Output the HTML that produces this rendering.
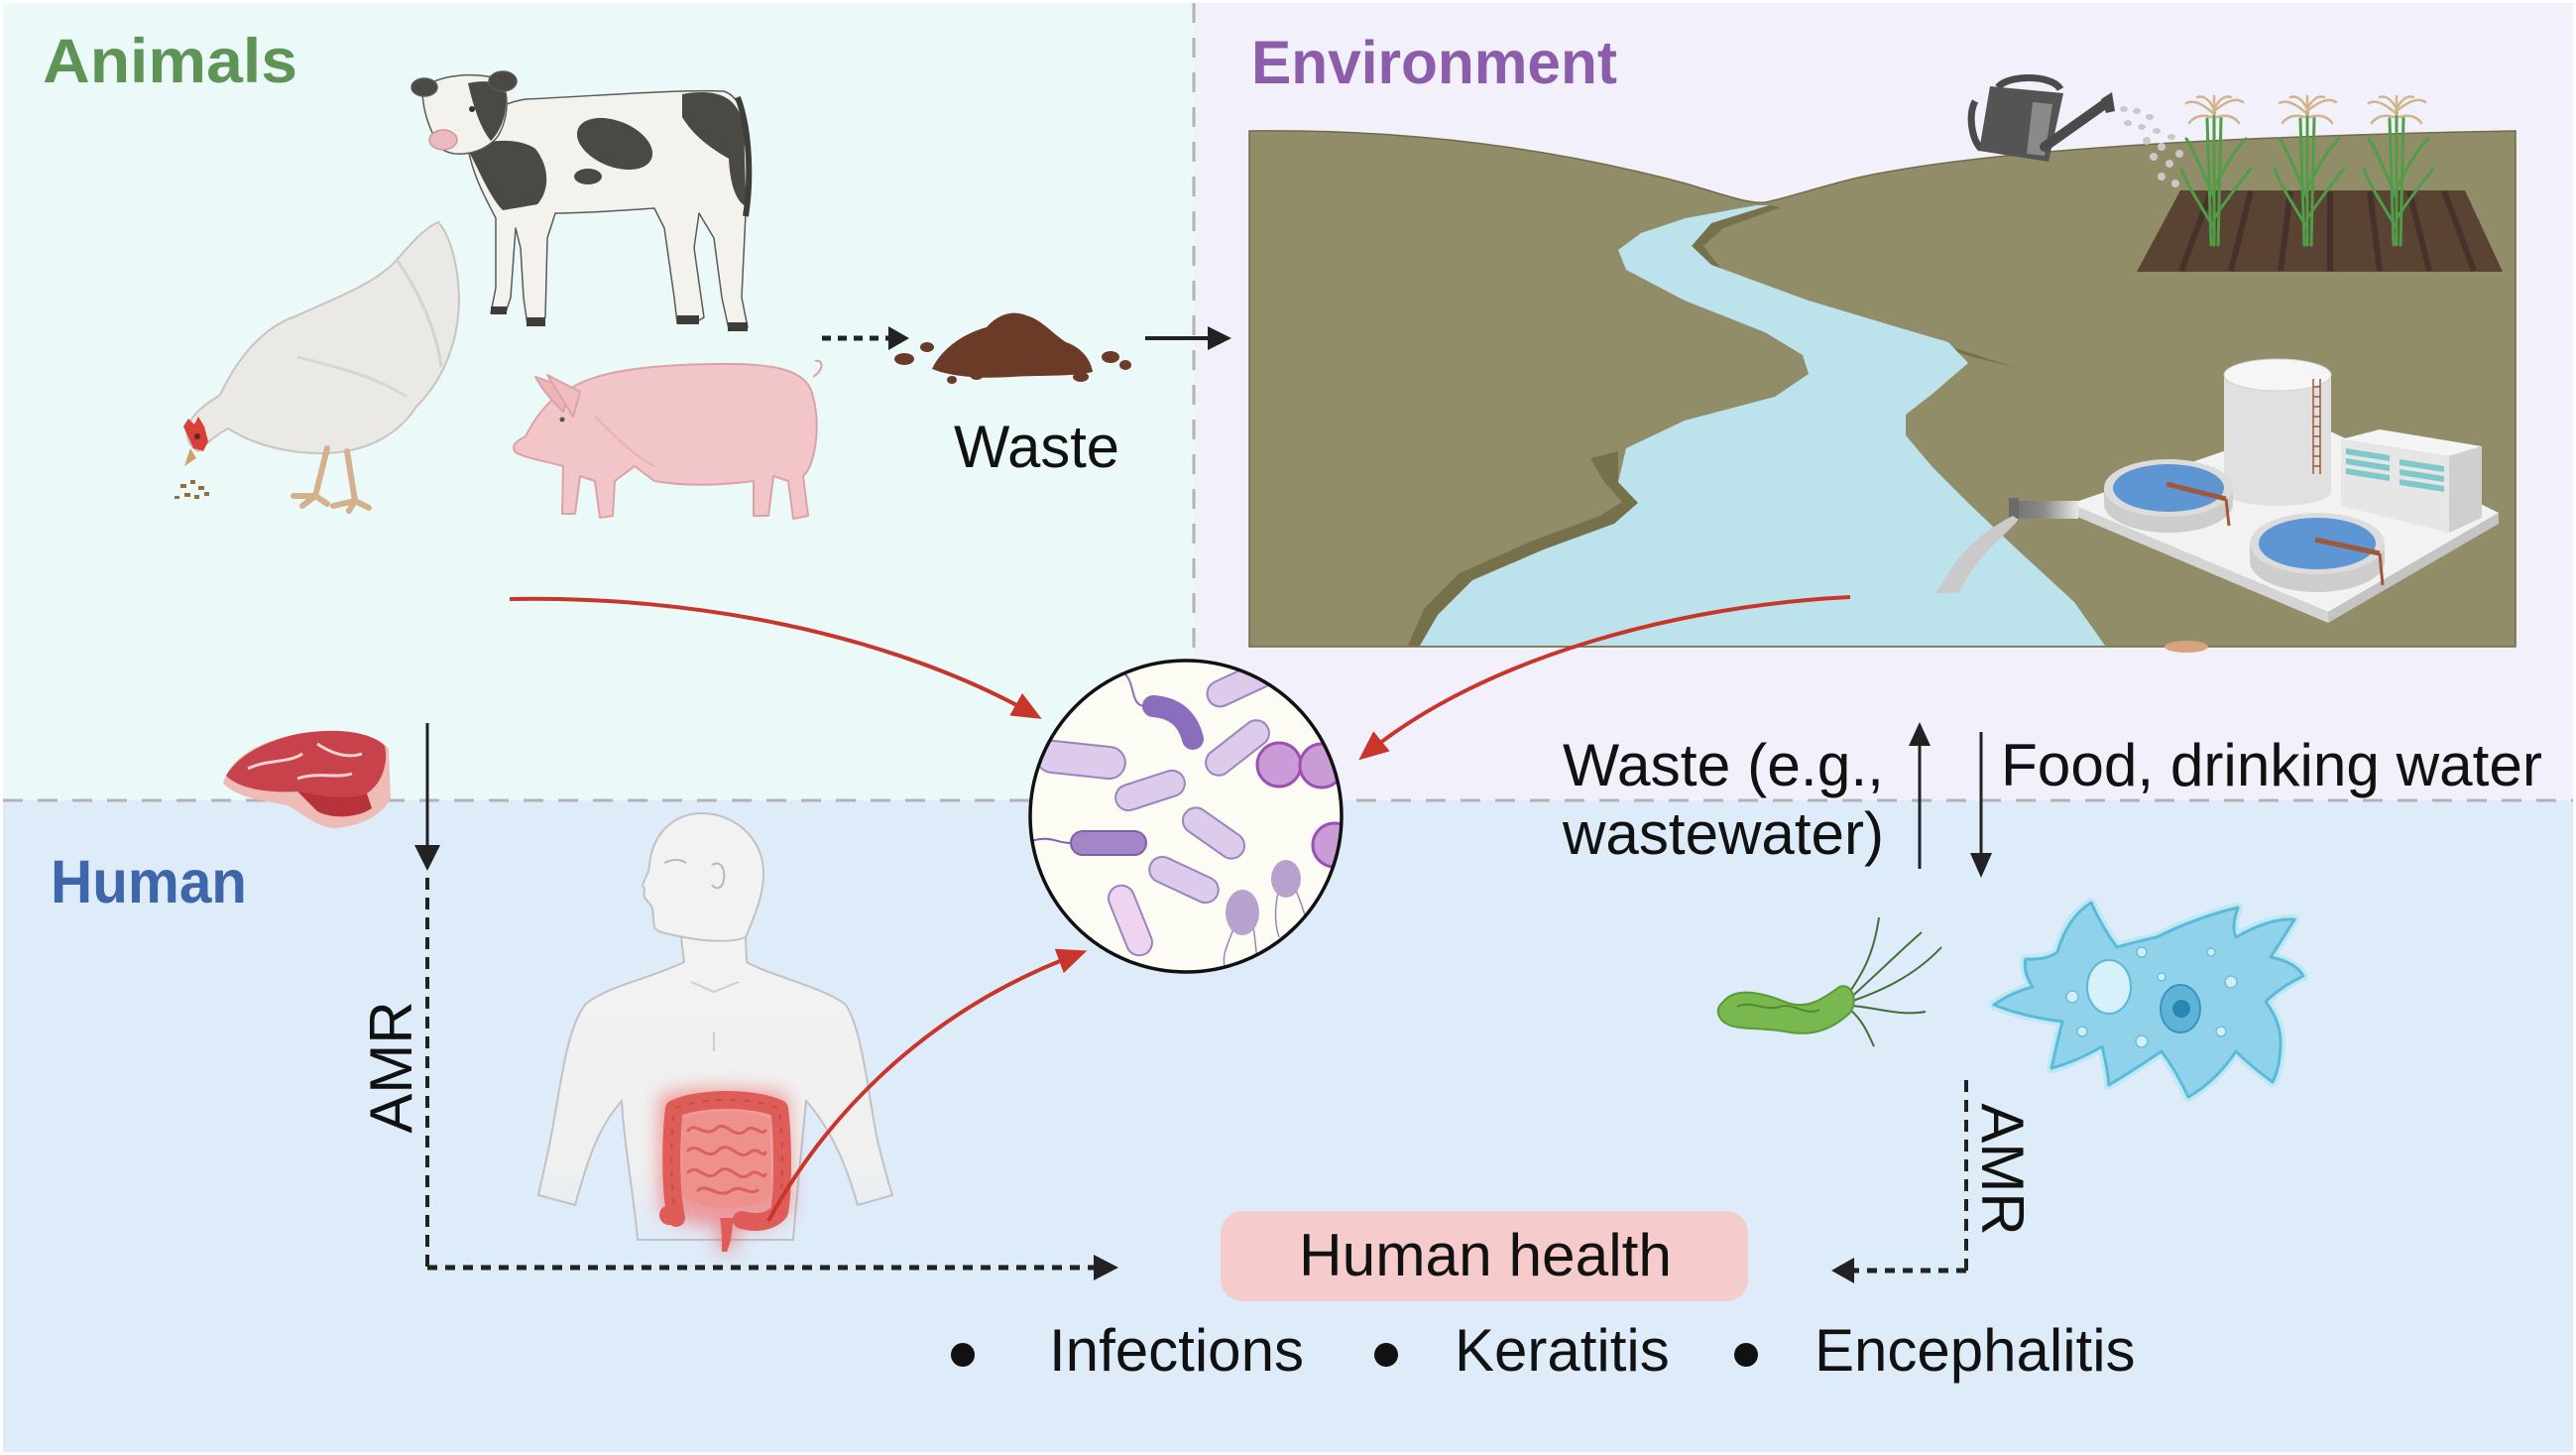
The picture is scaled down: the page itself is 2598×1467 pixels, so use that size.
<!DOCTYPE html>
<html>
<head>
<meta charset="utf-8">
<style>
html,body{margin:0;padding:0;background:#fff;}
body{width:2598px;height:1467px;overflow:hidden;}
svg{display:block;}
text{font-family:"Liberation Sans",Arial,sans-serif;}
</style>
</head>
<body>
<svg width="2598" height="1467" viewBox="0 0 2598 1467" xmlns="http://www.w3.org/2000/svg">
<defs>
  <clipPath id="circ"><circle cx="1196" cy="823" r="156"/></clipPath>
  <linearGradient id="bodyfade" x1="0" y1="0" x2="0" y2="1">
    <stop offset="0" stop-color="#f2f2f2"/>
    <stop offset="0.75" stop-color="#f0f0f0"/>
    <stop offset="1" stop-color="#f0f0f0" stop-opacity="0"/>
  </linearGradient>
  <linearGradient id="pipeg" x1="0" y1="0" x2="1" y2="0">
    <stop offset="0" stop-color="#6f6f6f"/>
    <stop offset="0.5" stop-color="#8a8a8a"/>
    <stop offset="1" stop-color="#e8e8e8"/>
  </linearGradient>
  <filter id="glow" x="-30%" y="-30%" width="160%" height="160%">
    <feGaussianBlur stdDeviation="9"/>
  </filter>
  <marker id="rh" markerUnits="userSpaceOnUse" markerWidth="30" markerHeight="26" refX="20" refY="13" orient="auto">
    <path d="M0,0 L30,13 L0,26 z" fill="#c8352b"/>
  </marker>
</defs>

<!-- Backgrounds -->
<rect x="0" y="0" width="2598" height="1467" fill="#ffffff"/>
<rect x="3" y="3" width="1201" height="804" fill="#ebf9f9"/>
<rect x="1204" y="3" width="1391" height="804" fill="#f1f0fb"/>
<rect x="3" y="807" width="2592" height="657" fill="#deebf8"/>
<line x1="1204" y1="3" x2="1204" y2="807" stroke="#b3b3b3" stroke-width="3" stroke-dasharray="20 15"/>
<line x1="3" y1="807" x2="2595" y2="807" stroke="#b3b3b3" stroke-width="3" stroke-dasharray="20 15"/>

<!-- Titles -->
<text x="43" y="83" font-size="63" font-weight="bold" fill="#5e9456" textLength="257" lengthAdjust="spacingAndGlyphs">Animals</text>
<text x="1262" y="84" font-size="61" font-weight="bold" fill="#8b5dab" textLength="369" lengthAdjust="spacingAndGlyphs">Environment</text>
<text x="51" y="910" font-size="61" font-weight="bold" fill="#3e66ab" textLength="198" lengthAdjust="spacingAndGlyphs">Human</text>

<!-- Cow -->
<g stroke="#5a5a5a" stroke-width="1.5" stroke-linejoin="round">
  <path d="M472,150 C480,120 500,105 530,100 C600,97 680,90 730,92 C748,98 752,120 750,150 L752,215 L748,300 L754,330 L735,332 L728,300 L720,240 L705,215 L700,250 L710,320 L700,326 L683,326 L680,300 L670,230 L660,210 C630,212 590,215 560,215 L552,240 L550,320 L532,328 L528,300 L525,250 L520,230 L515,300 L510,315 L495,316 L500,290 L500,220 C490,200 478,180 472,150 Z" fill="#f4f2ed"/>
  <path d="M470,148 C482,168 492,196 507,212 L542,206 C556,190 553,166 540,150 C524,139 498,140 470,148 Z" fill="#4a4944" stroke="none"/>
  <path d="M688,95 C720,89 746,95 750,130 L752,208 C741,202 736,182 735,160 C718,150 700,138 688,118 Z" fill="#4a4944" stroke="none"/>
  <ellipse cx="620" cy="145" rx="40" ry="23" transform="rotate(22 620 145)" fill="#4a4944" stroke="none"/>
  <ellipse cx="593" cy="178" rx="14" ry="8" fill="#4a4944" stroke="none"/>
  <path d="M744,98 C756,130 758,180 752,218" fill="none" stroke="#3e3d39" stroke-width="6"/>
  <path d="M426,90 C440,75 480,72 505,80 C515,95 512,125 500,140 C485,155 460,160 445,150 C432,130 426,110 426,90 Z" fill="#f4f2ed"/>
  <path d="M472,84 C490,80 505,82 510,95 C512,115 505,132 495,142 C485,130 478,110 472,84 Z" fill="#4a4944" stroke="none"/>
  <ellipse cx="428" cy="88" rx="13" ry="9" fill="#4a4944"/>
  <ellipse cx="507" cy="82" rx="14" ry="10" fill="#4a4944"/>
  <ellipse cx="447" cy="141" rx="14" ry="10" fill="#ebb9bf" stroke="#c99"/>
  <circle cx="476" cy="110" r="3" fill="#333" stroke="none"/>
  <rect x="495" y="309" width="16" height="8" fill="#3e3d39" stroke="none"/>
  <rect x="531" y="320" width="19" height="9" fill="#3e3d39" stroke="none"/>
  <rect x="683" y="318" width="22" height="9" fill="#3e3d39" stroke="none"/>
  <rect x="734" y="325" width="20" height="9" fill="#3e3d39" stroke="none"/>
</g>

<!-- Chicken -->
<g stroke-linejoin="round">
  <path d="M442,224 C452,235 462,262 463,300 C463,340 450,380 420,410 C400,440 370,455 330,457 C290,458 255,448 230,432 C215,440 205,450 200,455 C190,450 186,438 190,428 C196,414 212,405 222,398 C240,360 265,330 300,318 C340,300 380,285 400,262 C415,245 428,230 442,224 Z" fill="#ebe9e6" stroke="#c8c4bf" stroke-width="2"/>
  <path d="M400,262 C420,290 440,330 445,370" fill="none" stroke="#d6d2cd" stroke-width="3"/>
  <path d="M300,360 C340,370 380,380 410,400" fill="none" stroke="#d9d5d0" stroke-width="3"/>
  <path d="M185,430 L190,422 L196,428 L200,420 L206,430 L210,445 L205,455 L195,452 Z" fill="#d9403a"/>
  <path d="M192,452 L186,470 L198,462 Z" fill="#c9a36a"/>
  <circle cx="199" cy="440" r="3" fill="#5a2a20"/>
  <g stroke="#d4b08e" stroke-width="6" stroke-linecap="round" fill="none">
    <path d="M330,452 L318,500"/>
    <path d="M350,455 L358,505"/>
    <path d="M318,500 L296,500 M318,500 L305,510 M318,500 L330,508"/>
    <path d="M358,505 L336,510 M358,505 L352,515 M358,505 L372,512"/>
  </g>
  <g fill="#9b6b3e">
    <rect x="182" y="488" width="6" height="4"/><rect x="192" y="484" width="5" height="4"/>
    <rect x="200" y="490" width="6" height="4"/><rect x="186" y="497" width="6" height="4"/>
    <rect x="196" y="499" width="5" height="4"/><rect x="176" y="500" width="5" height="3"/>
    <rect x="206" y="496" width="5" height="4"/>
  </g>
</g>

<!-- Pig -->
<g stroke="#dba3a7" stroke-width="2" stroke-linejoin="round">
  <path d="M530,440 C540,420 555,400 575,392 C600,375 650,368 720,367 C780,366 815,372 820,400 C828,430 822,470 810,480 L815,520 L800,523 L795,485 L780,480 L775,520 L760,520 L760,485 C720,490 690,490 660,485 L640,470 L620,485 L618,520 L605,522 L600,485 L585,480 L580,518 L567,518 L568,470 C550,465 530,462 520,456 C515,450 520,445 530,440 Z" fill="#f2c6c8"/>
  <path d="M540,380 L575,392 L568,415 C558,405 548,395 540,380 Z" fill="#eeb5b9"/>
  <path d="M552,378 L585,395 L578,420 Z" fill="#f0bdc1"/>
  <path d="M820,380 C832,372 830,362 822,364" fill="none"/>
  <circle cx="567" cy="423" r="2.5" fill="#555" stroke="none"/>
  <path d="M600,420 C620,440 640,460 660,470" fill="none" stroke="#e6b0b4"/>
</g>

<!-- Waste pile -->
<g fill="#6b3b28">
  <path d="M940,372 C950,350 975,335 995,330 C1005,318 1020,312 1035,318 C1050,322 1060,335 1075,345 C1090,350 1100,362 1102,375 C1080,380 1050,378 1020,380 C990,382 960,380 940,372 Z"/>
  <ellipse cx="912" cy="362" rx="10" ry="6"/>
  <ellipse cx="935" cy="350" rx="7" ry="5"/>
  <ellipse cx="1120" cy="360" rx="9" ry="6"/>
  <ellipse cx="1135" cy="368" rx="6" ry="5"/>
  <ellipse cx="985" cy="378" rx="7" ry="5"/>
  <ellipse cx="1090" cy="380" rx="8" ry="5"/>
  <ellipse cx="960" cy="383" rx="5" ry="4"/>
</g>
<text x="962" y="471" font-size="60" fill="#111" textLength="167" lengthAdjust="spacingAndGlyphs">Waste</text>

<line x1="829" y1="341" x2="898" y2="341" stroke="#222" stroke-width="5" stroke-dasharray="9 7"/>
<polygon points="896,329 896,353 917,341" fill="#222"/>
<line x1="1155" y1="341" x2="1222" y2="341" stroke="#222" stroke-width="4"/>
<polygon points="1218,329 1218,353 1242,341" fill="#222"/>

<!-- ENVIRONMENT -->
<path d="M1260,652 L1260,132 C1400,130 1550,145 1700,185 C1740,197 1765,206 1780,204 C1800,200 1830,190 1870,180 C1980,155 2200,138 2537,132 L2537,652 Z" fill="#918d68" stroke="#6f6b48" stroke-width="1.5"/>
<!-- river bank shading (thin strips) -->
<polygon points="1784,207 1726,225 1706,248 1726,267 1824,303 1931,335 1975,352 2034,371 1990,360 1940,345 1836,310 1738,274 1718,248 1738,230 1796,209" fill="#76714b"/>
<polygon points="1632,455 1632,486 1652,507 1628,528 1557,554 1485,585 1450,620 1432,651 1420,651 1436,614 1472,578 1546,545 1614,520 1636,506 1618,486 1604,462" fill="#76714b"/>
<!-- river -->
<path d="M1771,207 L1700,220 L1655,235 L1632,252 L1640,272 L1699,303 L1780,335 L1818,358 L1824,377 L1790,400 L1699,424 L1640,452 L1632,486 L1652,507 L1628,528 L1557,554 L1485,585 L1450,620 L1432,651 L2123,651 L2092,607 L2029,549 L1985,507 L1949,471 L1922,439 L1922,418 L1949,397 L1985,366 L1965,345 L1931,335 L1824,303 L1726,267 L1706,248 L1726,225 L1784,207 Z" fill="#bce2ec"/>
<ellipse cx="2205" cy="652" rx="22" ry="6" fill="#d6a47c"/>

<!-- watering can -->
<g>
  <path d="M1992,102 C1985,115 1988,140 1998,150" fill="none" stroke="#4a4a4a" stroke-width="7"/>
  <path d="M2015,88 C2025,75 2070,75 2078,90" fill="none" stroke="#4a4a4a" stroke-width="7"/>
  <polygon points="2007,87 2081,94 2066,163 1996,152" fill="#545454"/>
  <polygon points="2050,103 2070,105 2062,157 2044,155" fill="#8a8a8a"/>
  <line x1="2062" y1="148" x2="2124" y2="104" stroke="#4a4a4a" stroke-width="10" stroke-linecap="round"/>
  <polygon points="2119,100 2130,93 2133,112 2124,114" fill="#4a4a4a"/>
</g>
<g fill="#c9c9c9">
  <ellipse cx="2142" cy="110" rx="4" ry="3"/><ellipse cx="2155" cy="112" rx="4" ry="3"/>
  <ellipse cx="2168" cy="118" rx="4" ry="3"/><ellipse cx="2146" cy="124" rx="4" ry="3"/>
  <ellipse cx="2160" cy="128" rx="4" ry="3"/><ellipse cx="2175" cy="132" rx="4" ry="3"/>
  <ellipse cx="2165" cy="142" rx="4" ry="4"/><ellipse cx="2180" cy="148" rx="4" ry="4"/>
  <ellipse cx="2190" cy="138" rx="4" ry="3"/><ellipse cx="2172" cy="158" rx="4" ry="4"/>
  <ellipse cx="2188" cy="165" rx="4" ry="4"/><ellipse cx="2198" cy="155" rx="4" ry="4"/>
  <ellipse cx="2180" cy="178" rx="4" ry="4"/><ellipse cx="2194" cy="185" rx="4" ry="4"/>
  <ellipse cx="2202" cy="200" rx="4" ry="4"/><ellipse cx="2205" cy="215" rx="4" ry="4"/>
</g>
<polygon points="2199,192 2486,192 2524,274 2155,274" fill="#5b4334"/>
<g stroke="#46322a" stroke-width="6">
  <line x1="2230" y1="193" x2="2200" y2="273"/>
  <line x1="2270" y1="193" x2="2250" y2="273"/>
  <line x1="2310" y1="193" x2="2300" y2="273"/>
  <line x1="2350" y1="193" x2="2350" y2="273"/>
  <line x1="2390" y1="193" x2="2400" y2="273"/>
  <line x1="2430" y1="193" x2="2450" y2="273"/>
  <line x1="2465" y1="193" x2="2495" y2="273"/>
</g>
<g id="plant1" stroke-linecap="round" fill="none">
  <g stroke="#4f9e47" stroke-width="3">
    <path d="M2233,247 L2233,110"/><path d="M2230,247 L2226,120"/><path d="M2237,247 L2240,118"/>
    <path d="M2233,230 C2215,200 2205,185 2200,170"/>
    <path d="M2233,220 C2250,195 2262,180 2270,170"/>
    <path d="M2233,200 C2220,170 2212,150 2205,140"/>
    <path d="M2233,190 C2248,160 2255,150 2265,140"/>
  </g>
  <g stroke="#d2b48c" stroke-width="2.5">
    <path d="M2233,115 C2222,105 2212,100 2205,104"/>
    <path d="M2233,112 C2245,102 2255,98 2262,103"/>
    <path d="M2233,110 C2228,100 2222,96 2216,98"/>
    <path d="M2233,110 C2238,100 2244,96 2250,98"/>
    <path d="M2233,112 L2233,97"/>
    <path d="M2230,118 C2220,115 2212,118 2208,124"/>
    <path d="M2236,118 C2246,115 2254,118 2258,124"/>
  </g>
</g>
<use href="#plant1" transform="translate(94,0)"/>
<use href="#plant1" transform="translate(184,0)"/>

<!-- treatment plant -->
<g>
  <polygon points="2088,508 2330,425 2520,517 2348,617" fill="#f2f2f2"/>
  <polygon points="2088,508 2348,617 2348,628 2088,518" fill="#d4d4d4"/>
  <polygon points="2348,617 2520,517 2520,528 2348,628" fill="#c4c4c4"/>
  <rect x="2243" y="378" width="108" height="118" fill="#e0e0e0"/>
  <ellipse cx="2297" cy="496" rx="54" ry="14" fill="#e0e0e0"/>
  <ellipse cx="2297" cy="378" rx="54" ry="16" fill="#f6f6f6" stroke="#d0d0d0"/>
  <g stroke="#a0583b" stroke-width="1.5">
    <line x1="2333" y1="382" x2="2333" y2="478"/><line x1="2340" y1="382" x2="2340" y2="478"/>
    <line x1="2333" y1="390" x2="2340" y2="390"/><line x1="2333" y1="400" x2="2340" y2="400"/>
    <line x1="2333" y1="410" x2="2340" y2="410"/><line x1="2333" y1="420" x2="2340" y2="420"/>
    <line x1="2333" y1="430" x2="2340" y2="430"/><line x1="2333" y1="440" x2="2340" y2="440"/>
    <line x1="2333" y1="450" x2="2340" y2="450"/><line x1="2333" y1="460" x2="2340" y2="460"/>
    <line x1="2333" y1="470" x2="2340" y2="470"/>
  </g>
  <polygon points="2361,443 2400,433 2503,450 2470,460" fill="#f4f4f4"/>
  <polygon points="2361,443 2470,460 2470,537 2361,510" fill="#e6e6e6"/>
  <polygon points="2470,460 2503,450 2503,522 2470,537" fill="#cfcfcf"/>
  <g fill="#7fc8cb">
    <polygon points="2366,452 2410,459 2410,465 2366,458"/>
    <polygon points="2366,462 2410,469 2410,475 2366,468"/>
    <polygon points="2366,472 2410,479 2410,485 2366,478"/>
    <polygon points="2420,463 2465,470 2465,476 2420,469"/>
    <polygon points="2420,473 2465,480 2465,486 2420,479"/>
    <polygon points="2420,483 2465,490 2465,496 2420,489"/>
  </g>
  <path d="M2122,492 L2122,508 A65,29 0 0 0 2252,508 L2252,492 Z" fill="#cdcdcd"/>
  <ellipse cx="2187" cy="492" rx="65" ry="29" fill="#dcdcdc"/>
  <ellipse cx="2187" cy="492" rx="56" ry="24" fill="#5e96d3"/>
  <line x1="2185" y1="488" x2="2245" y2="503" stroke="#a0583b" stroke-width="5"/>
  <line x1="2245" y1="503" x2="2248" y2="530" stroke="#a0583b" stroke-width="3"/>
  <path d="M2269,548 L2269,566 A68,31 0 0 0 2405,566 L2405,548 Z" fill="#cdcdcd"/>
  <ellipse cx="2337" cy="548" rx="68" ry="31" fill="#dcdcdc"/>
  <ellipse cx="2337" cy="548" rx="59" ry="26" fill="#5e96d3"/>
  <line x1="2335" y1="544" x2="2400" y2="558" stroke="#a0583b" stroke-width="5"/>
  <line x1="2400" y1="558" x2="2403" y2="590" stroke="#a0583b" stroke-width="3"/>
  <rect x="2026" y="505" width="70" height="18" fill="url(#pipeg)"/>
  <rect x="2026" y="502" width="10" height="24" fill="#6a6a6a"/>
  <path d="M2030,520 C2010,530 1985,548 1970,570 C1960,585 1955,596 1950,598 L1975,598 C1985,580 1998,560 2015,545 C2025,536 2032,528 2036,524 Z" fill="#cacaca"/>
</g>

<!-- steak -->
<g>
  <path d="M225,790 C230,770 250,752 290,742 C330,733 380,738 392,755 L394,805 C385,822 365,832 340,835 C320,835 305,820 290,812 C270,808 240,805 225,790 Z" fill="#eebcb5"/>
  <path d="M228,782 C240,762 265,748 300,740 C340,733 375,738 388,752 C392,770 385,790 370,800 C345,808 320,800 300,798 C270,800 240,795 228,782 Z" fill="#c8424b"/>
  <path d="M250,775 C270,765 290,770 305,760 M320,750 C335,760 350,765 365,760 M300,785 C320,778 340,785 355,780" stroke="#f4d3d3" stroke-width="3" fill="none"/>
  <path d="M300,798 C320,800 345,808 370,800 L375,815 C360,825 335,826 320,818 Z" fill="#b8323b"/>
</g>

<line x1="431" y1="729" x2="431" y2="856" stroke="#222" stroke-width="3"/>
<polygon points="418,852 444,852 431,878" fill="#222"/>
<line x1="431" y1="885" x2="431" y2="1278" stroke="#222" stroke-width="4" stroke-dasharray="12 8"/>
<line x1="431" y1="1278" x2="1104" y2="1278" stroke="#222" stroke-width="5" stroke-dasharray="10 8"/>
<polygon points="1103,1265 1103,1291 1128,1278" fill="#222"/>
<text transform="translate(415,1076) rotate(-90)" text-anchor="middle" font-size="60" fill="#111">AMR</text>

<!-- Human body -->
<g>
  <path d="M687,945 L690,970 C660,985 610,995 590,1013 C570,1040 565,1100 555,1150 C550,1175 545,1195 543,1205 L580,1215 C590,1180 600,1140 627,1110 C630,1160 640,1210 643,1250 L800,1250 C803,1210 808,1160 813,1110 C840,1140 855,1180 865,1215 L900,1205 C895,1190 890,1170 885,1150 C875,1100 870,1040 853,1013 C830,995 780,985 753,970 L752,945 Z" fill="url(#bodyfade)" stroke="#c2c2c2" stroke-width="2"/>
  <path d="M708,820 C740,820 770,845 770,880 C770,905 760,925 752,945 C740,950 715,950 690,945 C675,942 662,940 660,935 C658,925 660,918 656,912 L650,905 C648,900 652,896 648,893 C650,885 655,880 655,872 C658,840 680,820 708,820 Z" fill="#f2f2f2" stroke="#c2c2c2" stroke-width="2"/>
  <path d="M718,872 C728,866 734,880 728,893 C724,897 720,895 718,892" fill="none" stroke="#b8b8b8" stroke-width="2"/>
  <path d="M670,870 C678,866 686,866 692,870" fill="none" stroke="#b8b8b8" stroke-width="2"/>
  <path d="M697,990 L720,1000 L745,990" fill="none" stroke="#cfcfcf" stroke-width="2"/>
  <line x1="720" y1="1040" x2="720" y2="1060" stroke="#cfcfcf" stroke-width="2"/>
</g>
<!-- Intestines -->
<g>
  <path d="M665,1105 C690,1095 770,1095 795,1105 L798,1215 C790,1235 760,1240 745,1235 L740,1262 L725,1262 L722,1235 C700,1238 675,1230 665,1215 Z" fill="#f04444" opacity="0.5" filter="url(#glow)"/>
  <path d="M688,1128 C705,1118 758,1118 776,1128 L778,1205 C760,1222 705,1222 688,1205 Z" fill="#ee908b"/>
  <g fill="none" stroke="#d9625e" stroke-width="3" stroke-linecap="round">
    <path d="M694,1140 C700,1130 712,1148 722,1138 C732,1128 740,1150 752,1140 C760,1132 768,1146 772,1140"/>
    <path d="M694,1160 C704,1150 712,1172 724,1160 C736,1148 744,1172 756,1162 C764,1155 770,1168 772,1162"/>
    <path d="M694,1182 C704,1172 712,1194 724,1182 C736,1170 744,1194 756,1184 C764,1177 770,1190 772,1184"/>
    <path d="M704,1200 C714,1192 724,1210 738,1200 C748,1194 756,1206 764,1200"/>
  </g>
  <path d="M682,1228 C676,1200 676,1150 680,1118 C705,1106 760,1106 786,1118 C790,1150 790,1200 786,1222 C778,1232 762,1234 748,1230" fill="none" stroke="#de5d59" stroke-width="18" stroke-linecap="round" stroke-linejoin="round"/>
  <path d="M682,1228 C676,1200 676,1150 680,1118 C705,1106 760,1106 786,1118 C790,1150 790,1200 786,1222" fill="none" stroke="#c94a47" stroke-width="2" stroke-dasharray="6 8"/>
  <path d="M740,1228 C738,1240 738,1252 733,1262 L728,1262 C728,1250 728,1238 726,1228 Z" fill="#de5d59"/>
  <circle cx="675" cy="1225" r="10" fill="#de5d59"/>
</g>

<!-- Microbe circle -->
<circle cx="1196" cy="823" r="157" fill="#fdfcf4"/>
<g clip-path="url(#circ)">
  <g stroke="#9a83c0" stroke-width="2" fill="#dccbeb">
    <rect x="-40" y="-13" width="80" height="26" rx="13" transform="translate(1255,688) rotate(-25)"/>
    <rect x="-45" y="-16" width="90" height="32" rx="16" transform="translate(1090,766) rotate(6)"/>
    <rect x="-37" y="-13" width="74" height="26" rx="13" transform="translate(1248,754) rotate(-38)"/>
    <rect x="-36" y="-13" width="72" height="26" rx="13" transform="translate(1160,797) rotate(-18)"/>
    <rect x="-35" y="-13" width="70" height="26" rx="13" transform="translate(1224,840) rotate(35)"/>
    <rect x="-37" y="-13" width="74" height="26" rx="13" transform="translate(1194,887) rotate(25)"/>
    <rect x="-37" y="-13" width="74" height="26" rx="13" transform="translate(1140,928) rotate(68)" fill="#eed4ef"/>
  </g>
  <path d="M1163,712 Q1195,714 1203,745" fill="none" stroke="#8b6dbd" stroke-width="22" stroke-linecap="round"/>
  <path d="M1155,712 C1140,712 1145,690 1135,680" fill="none" stroke="#8b6dbd" stroke-width="2"/>
  <rect x="1080" y="838" width="76" height="24" rx="12" fill="#a286c7" stroke="#7d61aa" stroke-width="2"/>
  <path d="M1080,850 C1065,850 1060,842 1040,848" fill="none" stroke="#7d61aa" stroke-width="2"/>
  <g fill="#c99bd7" stroke="#9d4fb2" stroke-width="3">
    <circle cx="1290" cy="771" r="22"/>
    <circle cx="1333" cy="772" r="22"/>
    <circle cx="1346" cy="852" r="22"/>
  </g>
  <g fill="none" stroke="#9a86b8" stroke-width="1.5">
    <path d="M1248,925 C1240,950 1232,960 1235,975"/>
    <path d="M1262,925 C1268,950 1265,960 1270,972"/>
    <path d="M1292,890 C1285,910 1285,930 1290,945"/>
    <path d="M1304,890 C1312,910 1318,925 1318,935"/>
  </g>
  <ellipse cx="1253" cy="920" rx="17" ry="23" fill="#b9a1cd"/>
  <ellipse cx="1297" cy="886" rx="15" ry="19" fill="#b9a1cd"/>
</g>
<circle cx="1196" cy="823" r="157" fill="none" stroke="#111" stroke-width="3.5"/>

<!-- Red arrows -->
<path d="M514,604 C700,600 900,640 1042,720" fill="none" stroke="#c8352b" stroke-width="4" marker-end="url(#rh)"/>
<path d="M1866,602 C1700,610 1500,660 1378,760" fill="none" stroke="#c8352b" stroke-width="4" marker-end="url(#rh)"/>
<path d="M775,1231 C830,1130 930,1020 1087,962" fill="none" stroke="#c8352b" stroke-width="4" marker-end="url(#rh)"/>

<text x="1576" y="792" font-size="60" fill="#111" textLength="324" lengthAdjust="spacingAndGlyphs">Waste (e.g.,</text>
<text x="1576" y="861" font-size="60" fill="#111" textLength="324" lengthAdjust="spacingAndGlyphs">wastewater)</text>
<line x1="1936" y1="876" x2="1936" y2="750" stroke="#222" stroke-width="3"/>
<polygon points="1925,752 1947,752 1936,728" fill="#222"/>
<line x1="1998" y1="738" x2="1998" y2="862" stroke="#222" stroke-width="3"/>
<polygon points="1987,860 2009,860 1998,885" fill="#222"/>
<text x="2018" y="792" font-size="60" fill="#111" textLength="546" lengthAdjust="spacingAndGlyphs">Food, drinking water</text>

<!-- Green bacterium -->
<g>
  <g fill="none" stroke="#3f6e3b" stroke-width="2">
    <path d="M1862,1005 C1880,980 1890,960 1895,925"/>
    <path d="M1864,1008 C1890,985 1915,960 1938,940"/>
    <path d="M1866,1010 C1895,1000 1930,985 1958,955"/>
    <path d="M1866,1014 C1890,1015 1915,1025 1942,1020"/>
    <path d="M1866,1018 C1880,1030 1885,1045 1890,1055"/>
  </g>
  <path d="M1738,1010 C1750,995 1775,1000 1800,1010 C1820,1018 1835,1010 1855,995 C1868,990 1875,1010 1865,1022 C1845,1040 1825,1045 1800,1040 C1775,1035 1750,1040 1738,1030 C1730,1022 1732,1015 1738,1010 Z" fill="#79b84f" stroke="#5a9a36" stroke-width="2"/>
  <path d="M1752,1015 C1765,1008 1780,1020 1795,1015 C1808,1010 1820,1025 1835,1018" fill="none" stroke="#4f8a32" stroke-width="2"/>
</g>

<!-- Amoeba -->
<g>
  <path d="M2043,967 Q2065,968 2075,960 Q2085,925 2109,910 Q2120,935 2135,955 Q2160,948 2175,945 Q2215,925 2257,915 Q2250,935 2255,945 Q2290,925 2314,927 Q2300,950 2290,965 Q2315,970 2323,984 Q2300,995 2285,1010 Q2300,1030 2300,1050 Q2300,1075 2292,1091 Q2270,1075 2255,1060 Q2235,1090 2207,1106 Q2195,1080 2180,1060 Q2150,1080 2127,1094 Q2125,1075 2120,1055 Q2095,1070 2069,1077 Q2075,1050 2080,1030 Q2040,1025 2011,1013 Q2030,1000 2050,995 Q2040,980 2043,967 Z" fill="#8fd2ea" stroke="#bfe8f5" stroke-width="10" stroke-linejoin="round"/>
  <path d="M2043,967 Q2065,968 2075,960 Q2085,925 2109,910 Q2120,935 2135,955 Q2160,948 2175,945 Q2215,925 2257,915 Q2250,935 2255,945 Q2290,925 2314,927 Q2300,950 2290,965 Q2315,970 2323,984 Q2300,995 2285,1010 Q2300,1030 2300,1050 Q2300,1075 2292,1091 Q2270,1075 2255,1060 Q2235,1090 2207,1106 Q2195,1080 2180,1060 Q2150,1080 2127,1094 Q2125,1075 2120,1055 Q2095,1070 2069,1077 Q2075,1050 2080,1030 Q2040,1025 2011,1013 Q2030,1000 2050,995 Q2040,980 2043,967 Z" fill="#8fd2ea" stroke="#5cbad9" stroke-width="3" stroke-linejoin="round"/>
  <ellipse cx="2127" cy="995" rx="22" ry="27" fill="#d6f1f9" stroke="#5bb8d8" stroke-width="2"/>
  <ellipse cx="2199" cy="1017" rx="20" ry="24" fill="#5fb3d6" stroke="#3a94bf" stroke-width="2"/>
  <circle cx="2200" cy="1017" r="9" fill="#2c86b3"/>
  <g fill="#d4eef7" stroke="#6cbfdc" stroke-width="1.5">
    <circle cx="2090" cy="1005" r="6"/><circle cx="2160" cy="960" r="5"/>
    <circle cx="2250" cy="990" r="6"/><circle cx="2160" cy="1050" r="6"/>
    <circle cx="2100" cy="1040" r="5"/><circle cx="2240" cy="1040" r="5"/>
    <circle cx="2180" cy="985" r="4"/><circle cx="2230" cy="960" r="4"/>
  </g>
</g>

<line x1="1983" y1="1089" x2="1983" y2="1281" stroke="#222" stroke-width="4" stroke-dasharray="12 8"/>
<line x1="1983" y1="1281" x2="1870" y2="1281" stroke="#222" stroke-width="5" stroke-dasharray="10 8"/>
<polygon points="1870,1268 1870,1294 1847,1281" fill="#222"/>
<text transform="translate(1999,1179) rotate(90)" text-anchor="middle" font-size="60" fill="#111">AMR</text>

<rect x="1231" y="1221" width="532" height="91" rx="22" fill="#f5cccb"/>
<text x="1310" y="1286" font-size="60" fill="#111" textLength="376" lengthAdjust="spacingAndGlyphs">Human health</text>

<circle cx="971" cy="1366" r="12" fill="#111"/>
<text x="1058" y="1382" font-size="60" fill="#111" textLength="257" lengthAdjust="spacingAndGlyphs">Infections</text>
<circle cx="1398" cy="1366" r="12" fill="#111"/>
<text x="1467" y="1382" font-size="60" fill="#111">Keratitis</text>
<circle cx="1761" cy="1366" r="12" fill="#111"/>
<text x="1830" y="1382" font-size="60" fill="#111">Encephalitis</text>
</svg>
</body>
</html>
